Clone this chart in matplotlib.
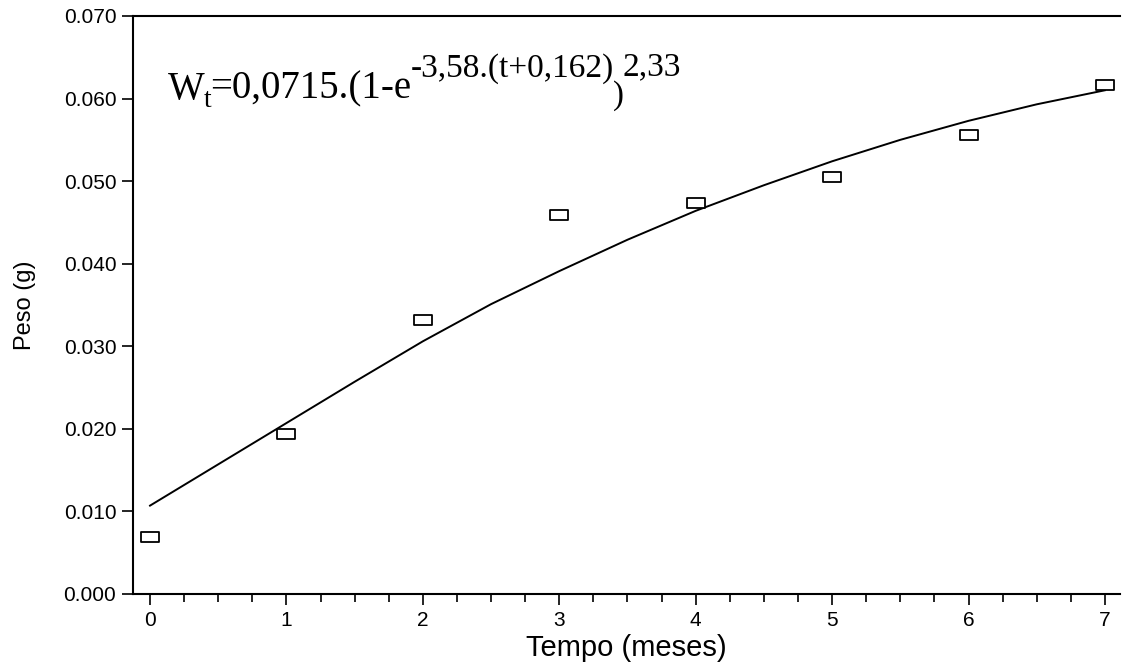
import matplotlib
matplotlib.use("Agg")
import matplotlib.pyplot as plt
from matplotlib.path import Path
from matplotlib.ticker import MultipleLocator, FormatStrFormatter

# observed weights (box markers)
meses = [0, 1, 2, 3, 4, 5, 6, 7]
peso = [0.0069, 0.0194, 0.0332, 0.0459, 0.0473, 0.0505, 0.0556, 0.0616]

# fitted curve
curva_t = [0, 0.5, 1, 1.5, 2, 2.5, 3, 3.5, 4, 4.5, 5, 5.5, 6, 6.5, 7]
curva_w = [0.0107, 0.0157, 0.0207, 0.0257, 0.0306, 0.0351, 0.0391, 0.0429,
           0.0464, 0.0495, 0.0524, 0.0550, 0.0573, 0.0593, 0.0610]

# equation pieces: (text, font size, baseline shift in px)
equacao = [("W", 28, 0), ("t", 20, -8), ("=0,0715.(1-e", 28, 0),
           ("-3,58.(t+0,162)", 24, 22), (")", 23.5, -5), ("2,33", 24, 23)]

plt.rcParams["font.family"] = ["Liberation Sans", "DejaVu Sans"]

fig = plt.figure(figsize=(11.24, 6.65), dpi=100)
ax = fig.add_axes([0.1183, 0.1068, 0.8781, 0.8692])

ax.plot(curva_t, curva_w, color="black", lw=1.4)

caixa = Path([(-1, -0.55), (1, -0.55), (1, 0.55), (-1, 0.55), (-1, -0.55)],
             [Path.MOVETO, Path.LINETO, Path.LINETO, Path.LINETO, Path.CLOSEPOLY])
ax.plot(meses, peso, linestyle="none", marker=caixa, markersize=13,
        markerfacecolor="white", markeredgecolor="black", markeredgewidth=1.3)

ax.set_xlim(-0.125, 7.11)
ax.set_ylim(0, 0.070)
ax.xaxis.set_major_locator(MultipleLocator(1))
ax.xaxis.set_minor_locator(MultipleLocator(0.25))
ax.yaxis.set_major_locator(MultipleLocator(0.01))
ax.yaxis.set_major_formatter(FormatStrFormatter("%.3f"))

ax.tick_params(axis="both", which="major", direction="out", length=8, width=1.2,
               labelsize=15, pad=4)
ax.tick_params(axis="x", which="minor", direction="out", length=6, width=1.2)

ax.spines["right"].set_visible(False)
for s in ["left", "bottom", "top"]:
    ax.spines[s].set_linewidth(1.5)

ax.set_xlabel("Tempo (meses)", fontsize=21, labelpad=3)
ax.set_ylabel("Peso (g)", fontsize=17, labelpad=20)

# write the equation piece by piece so the superscripts keep their size
renderer = fig.canvas.get_renderer()
x_px, y_px = ax.transData.transform((0.13, 0.0600))
W, H = fig.bbox.width, fig.bbox.height
for txt, size, shift in equacao:
    t = fig.text(x_px / W, (y_px + shift) / H, txt, fontsize=size,
                 family="Liberation Serif", ha="left", va="baseline")
    x_px = t.get_window_extent(renderer).x1 - 1

fig.savefig("out.png", dpi=100)
